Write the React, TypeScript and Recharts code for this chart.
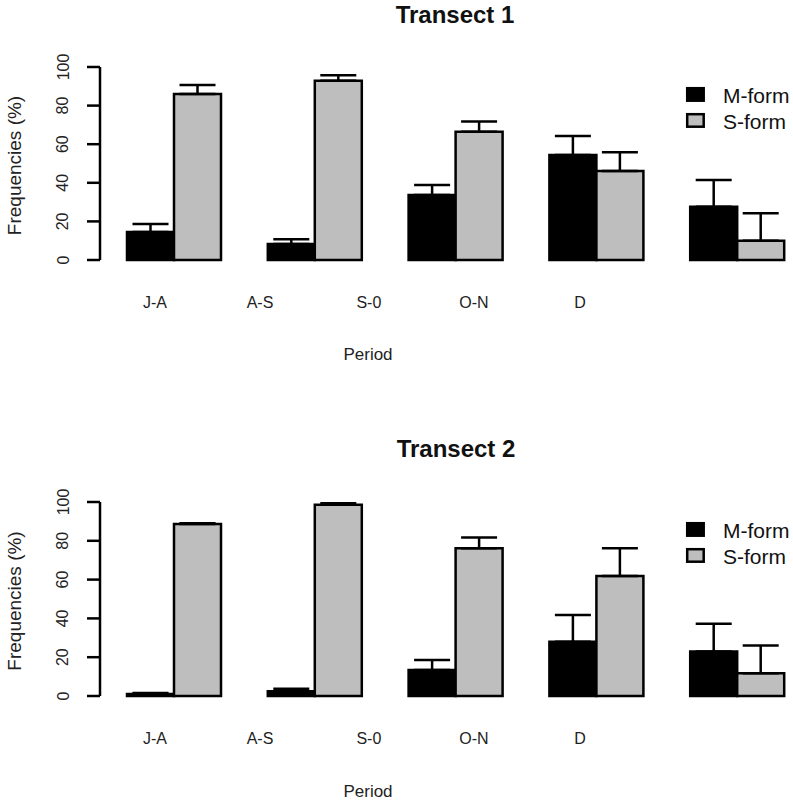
import React from 'react';
import { BarChart, Bar, XAxis, YAxis, ErrorBar, Legend } from 'recharts';

const periods = ['J-A', 'A-S', 'S-0', 'O-N', 'D'];
const labelPositions = [1.61, 3.85, 6.17, 8.41, 10.67];
const yTicks = [0, 20, 40, 60, 80, 100];

const t1M = [14.5, 8.3, 33.7, 54.4, 27.6];
const t1MErr = [4.1, 2.4, 5.2, 9.8, 13.9];
const t1S = [86.0, 92.9, 66.5, 46.1, 10.0];
const t1SErr = [4.7, 2.8, 5.2, 9.7, 14.2];

const t2M = [1.0, 2.5, 13.4, 28.0, 22.9];
const t2MErr = [0.6, 1.2, 5.2, 13.8, 14.3];
const t2S = [88.6, 98.6, 76.2, 61.9, 11.7];
const t2SErr = [0.4, 0.7, 5.5, 14.3, 14.3];

const NARROW = '"Liberation Sans Narrow", "Liberation Sans", Arial, sans-serif';
const SANS = '"Liberation Sans", Arial, sans-serif';

function buildRows(m: number[], mErr: number[], s: number[], sErr: number[]) {
  return periods.map((p, i) => ({
    period: p,
    labelPos: labelPositions[i],
    m: m[i],
    mErr: [0, mErr[i]],
    s: s[i],
    sErr: [0, sErr[i]],
  }));
}

const rows1 = buildRows(t1M, t1MErr, t1S, t1SErr);
const rows2 = buildRows(t2M, t2MErr, t2S, t2SErr);

const labelFor = (v: number) => {
  const idx = labelPositions.findIndex((p) => Math.abs(p - v) < 1e-6);
  return idx >= 0 ? periods[idx] : '';
};

const YTick = (props: any) => {
  const { x, y, payload } = props;
  return (
    <text
      x={x}
      y={y}
      transform={`rotate(-90, ${x}, ${y})`}
      textAnchor="middle"
      fontFamily={NARROW}
      fontSize={16}
      fill="#222"
    >
      {payload.value}
    </text>
  );
};

const YLabel = (props: any) => {
  const vb = props.viewBox || { x: 0, y: 0, width: 0, height: 0 };
  const cx = vb.x + 21;
  const cy = vb.y + vb.height / 2 + 2;
  return (
    <text
      x={cx}
      y={cy}
      transform={`rotate(-90, ${cx}, ${cy})`}
      textAnchor="middle"
      fontFamily={SANS}
      fontSize={19}
      fill="#222"
    >
      Frequencies (%)
    </text>
  );
};

const LegendBox = (props: any) => {
  const payload = props.payload || [];
  return (
    <svg width={120} height={60} style={{ display: 'block' }}>
      {payload.map((e: any, i: number) => (
        <g key={i}>
          <rect
            x={3.2}
            y={4.2 + 26 * i}
            width={16.5}
            height={12.5}
            fill={e.color}
            stroke="#000"
            strokeWidth={2.5}
          />
          <text x={39} y={19 + 26 * i} fontSize={21} fontFamily={SANS} fill="#111">
            {e.value}
          </text>
        </g>
      ))}
    </svg>
  );
};

type PanelProps = {
  data: any[];
  height: number;
  top: number;
  bottom: number;
  legendTop: number;
};

const Panel = ({ data, height, top, bottom, legendTop }: PanelProps) => (
  <BarChart
    width={813}
    height={height}
    data={data}
    margin={{ top, right: 5, bottom, left: 0 }}
    barGap={0}
  >
    <XAxis xAxisId="cat" dataKey="period" hide height={0} padding={{ left: 4, right: 0 }} />
    <XAxis
      xAxisId="lbl"
      dataKey="labelPos"
      type="number"
      domain={[0.44, 15.53]}
      allowDataOverflow
      ticks={labelPositions}
      interval={0}
      tickFormatter={labelFor}
      axisLine={false}
      tickLine={false}
      tickSize={0}
      tickMargin={37}
      height={60}
      tick={{ fontFamily: NARROW, fontSize: 16, fill: '#222' }}
    />
    <YAxis
      width={100}
      domain={[0, 100]}
      ticks={yTicks}
      interval={0}
      axisLine={{ stroke: '#000', strokeWidth: 2.5 }}
      tickLine={{ stroke: '#000', strokeWidth: 2.5 }}
      tickSize={13}
      tickMargin={18.5}
      tick={<YTick />}
      label={<YLabel />}
    />
    <Legend
      layout="vertical"
      align="center"
      verticalAlign="middle"
      content={<LegendBox />}
      wrapperStyle={{ left: 684, top: legendTop, width: 120, height: 60 }}
    />
    <Bar
      xAxisId="cat"
      dataKey="m"
      name="M-form"
      fill="#000000"
      stroke="#000000"
      strokeWidth={2.5}
      barSize={47}
      isAnimationActive={false}
    >
      <ErrorBar dataKey="mErr" width={18} strokeWidth={2.5} stroke="#000" />
    </Bar>
    <Bar
      xAxisId="cat"
      dataKey="s"
      name="S-form"
      fill="#BEBEBE"
      stroke="#000000"
      strokeWidth={2.5}
      barSize={47}
      isAnimationActive={false}
    >
      <ErrorBar dataKey="sErr" width={18} strokeWidth={2.5} stroke="#000" />
    </Bar>
  </BarChart>
);

export default function App() {
  return (
    <div
      style={{
        position: 'absolute',
        left: 0,
        top: 0,
        width: 793,
        height: 801,
        overflow: 'hidden',
        background: '#fff',
      }}
    >
      <div style={{ position: 'absolute', left: 0, top: 0 }}>
        <Panel data={rows1} height={400} top={67} bottom={80} legendTop={84} />
      </div>
      <div style={{ position: 'absolute', left: 0, top: 400 }}>
        <Panel data={rows2} height={401} top={102} bottom={45} legendTop={119} />
      </div>
      <svg
        width={793}
        height={801}
        style={{ position: 'absolute', left: 0, top: 0, pointerEvents: 'none' }}
      >
        <text x={455} y={23} textAnchor="middle" fontFamily={SANS} fontWeight="bold" fontSize={24} fill="#111">
          Transect 1
        </text>
        <text x={456} y={457} textAnchor="middle" fontFamily={SANS} fontWeight="bold" fontSize={24} fill="#111">
          Transect 2
        </text>
        <text x={368} y={360} textAnchor="middle" fontFamily={NARROW} fontSize={17} fill="#222">
          Period
        </text>
        <text x={368} y={797} textAnchor="middle" fontFamily={NARROW} fontSize={17} fill="#222">
          Period
        </text>
      </svg>
    </div>
  );
}
